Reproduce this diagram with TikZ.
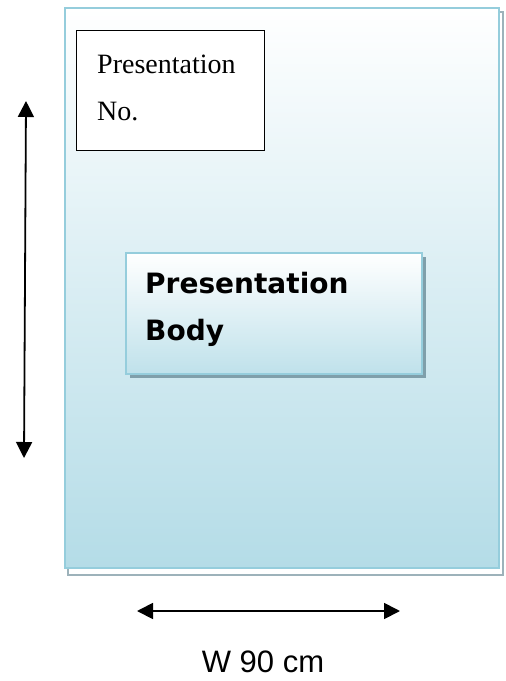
\documentclass[tikz,border=0pt]{standalone}
\usepackage{fontspec}
\usepackage{tikz}
\usetikzlibrary{arrows.meta}
\usetikzlibrary{positioning}
\newfontfamily\numfont{Liberation Serif}
\newfontfamily\bodyfont{DejaVu Sans}
\newfontfamily\dimfont{Liberation Sans}
\definecolor{edgeblue}{HTML}{95CDDC}
\definecolor{paleblue}{HTML}{B4DCE7}
\definecolor{shadowgray}{HTML}{9DB2BA}
\definecolor{bodyshadow}{HTML}{7F9FAA}

\begin{document}
\begin{tikzpicture}[
			x=1pt, y=-1pt,
			sheet/.style={draw=edgeblue, line width=2pt, top color=white, bottom color=paleblue},
			numbox/.style={draw=black, line width=0.8pt, fill=white},
			bodybox/.style={draw=edgeblue, line width=1.5pt, top color=white, bottom color=paleblue!85},
			numtext/.style={font=\numfont\fontsize{28}{47}\selectfont, align=left, inner sep=0pt},
			bodytext/.style={font=\bodyfont\bfseries\fontsize{28}{47}\selectfont, align=left, inner sep=0pt},
			dimtext/.style={font=\dimfont\fontsize{31}{37}\selectfont, inner sep=0pt, text depth=0pt},
			dim/.style={{Triangle[length=16pt,width=16pt]}-{Triangle[length=16pt,width=16pt]}, line width=1.8pt}
		]
		\useasboundingbox (0,0) rectangle (506,681);

		% --- Poster sheet ---
		\draw[draw=shadowgray, fill=white, line width=2.5pt] (68,12) rectangle (503,575);
		\draw[sheet] (65,8) rectangle (499,568);

		% --- Number box ---
		\draw[numbox] (76,30) rectangle (264,150);
		\node[numtext, anchor=base west] (numlabel) at (97,120) {Presentation\\No.};

		% --- Body box ---
		\fill[bodyshadow] (130,257) rectangle (426,378);
		\draw[bodybox] (126,253) rectangle (422,374);
		\node[bodytext, anchor=base west] (bodylabel) at (145,340) {Presentation\\Body};

		% --- Dimensions ---
		\coordinate (htop) at (26,101);
		\coordinate (hbot) at (24,458);
		\draw[dim] (htop) -- (hbot);

		\coordinate (wleft) at (137,611);
		\coordinate (wright) at (400,611);
		\draw[dim] (wleft) -- (wright);
		\node[dimtext, anchor=base] (widthlabel) at (263,672) {W 90 cm};

	\end{tikzpicture}
\end{document}
